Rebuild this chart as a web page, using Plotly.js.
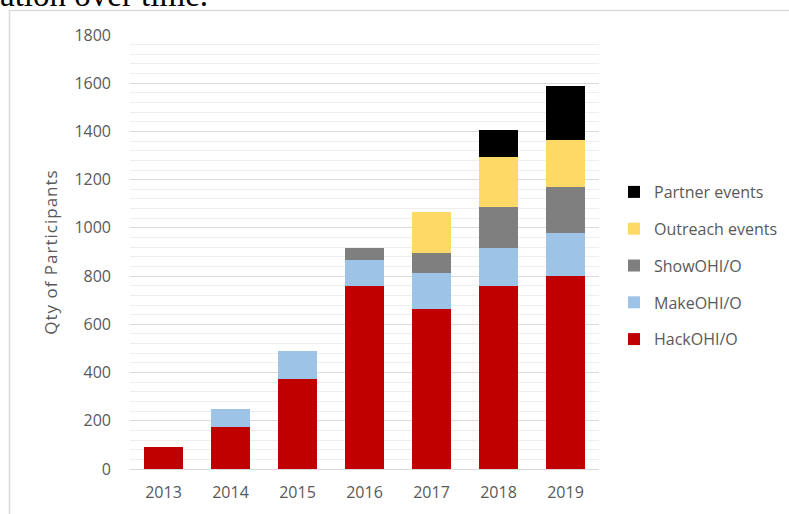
<!DOCTYPE html>
<html>
<head>
<meta charset="utf-8">
<script src="https://cdn.plot.ly/plotly-3.0.1.min.js"></script>
<style>
  html, body { margin: 0; padding: 0; background: #ffffff; }
  #chart { width: 789px; height: 514px; }
  #chart .ytitle { letter-spacing: 1px; }
</style>
</head>
<body>
<div id="chart"></div>
<script>
const years = ['2013', '2014', '2015', '2016', '2017', '2018', '2019'];
const hackOHIO     = [90, 175, 375, 760, 665, 760, 800];
const makeOHIO     = [0, 75, 115, 108, 148, 155, 178];
const showOHIO     = [0, 0, 0, 48, 83, 173, 193];
const outreachEvts = [0, 0, 0, 0, 170, 204, 192];
const partnerEvts  = [0, 0, 0, 0, 0, 116, 226];
const seriesNames  = ['HackOHI/O', 'MakeOHI/O', 'ShowOHI/O', 'Outreach events', 'Partner events'];
const seriesColors = ['#c00000', '#9dc3e6', '#7f7f7f', '#ffd966', '#000000'];
const yTicks = [0, 200, 400, 600, 800, 1000, 1200, 1400, 1600, 1800];

const seriesValues = [hackOHIO, makeOHIO, showOHIO, outreachEvts, partnerEvts];
const traces = seriesValues.map((vals, i) => ({
  type: 'bar',
  name: seriesNames[i],
  x: years,
  y: vals,
  legendgroup: 'g' + i,
  legendrank: 1000 - i,
  marker: { color: seriesColors[i], line: { width: 0 } },
  hoverinfo: 'x+y+name'
}));

// pixel helpers for paper coordinates (plot area: x 130..599, y 35..469)
const PL = 130, PR = 599, PT = 35, PB = 469;
const px = v => (v - PL) / (PR - PL);
const py = v => (PB - v) / (PB - PT);

const layout = {
  width: 789,
  height: 514,
  margin: { l: PL, r: 789 - PR, t: PT, b: 514 - PB, pad: 0, autoexpand: false },
  paper_bgcolor: '#ffffff',
  plot_bgcolor: '#ffffff',
  barmode: 'stack',
  bargap: 0.42,
  font: { family: 'Open Sans, sans-serif', color: '#595959', size: 16 },
  xaxis: {
    type: 'category',
    showgrid: false,
    showline: false,
    zeroline: false,
    ticks: '',
    ticklabelstandoff: 12,
    tickfont: { family: 'Open Sans, sans-serif', size: 16, color: '#595959' },
    automargin: false,
    fixedrange: true
  },
  yaxis: {
    range: [0, 1800],
    tickvals: yTicks,
    ticktext: yTicks.map(String),
    showgrid: true,
    gridcolor: '#d9d9d9',
    gridwidth: 1,
    zeroline: true,
    zerolinecolor: '#d9d9d9',
    zerolinewidth: 1,
    showline: false,
    ticks: '',
    ticklabelstandoff: 18,
    tickfont: { family: 'Open Sans, sans-serif', size: 16, color: '#595959' },
    minor: { dtick: 40, showgrid: true, gridcolor: '#eeeeee', gridwidth: 1, ticks: '' },
    title: { text: 'Qty of Participants', standoff: 12, font: { family: 'Open Sans, sans-serif', size: 17, color: '#595959' } },
    automargin: false,
    fixedrange: true
  },
  showlegend: true,
  legend: {
    x: px(614),
    xanchor: 'left',
    y: py(175),
    yanchor: 'top',
    traceorder: 'grouped',
    tracegroupgap: 13,
    font: { family: 'Open Sans, sans-serif', size: 16, color: '#595959' },
    bgcolor: 'rgba(0,0,0,0)',
    borderwidth: 0
  },
  shapes: [
    {
      type: 'rect', xref: 'paper', yref: 'paper',
      x0: px(9.5), x1: px(820), y0: py(10.5), y1: py(540),
      line: { color: '#d9d9d9', width: 1.5 },
      fillcolor: 'rgba(0,0,0,0)',
      layer: 'below'
    }
  ],
  annotations: [
    {
      text: 'ation over time.',
      xref: 'paper', yref: 'paper',
      x: px(-2), xanchor: 'left',
      y: py(15), yanchor: 'bottom',
      showarrow: false,
      font: { family: 'Liberation Serif, serif', size: 33, color: '#000000' }
    }
  ]
};

Plotly.newPlot('chart', traces, layout, { displayModeBar: false, staticPlot: true });
</script>
</body>
</html>
